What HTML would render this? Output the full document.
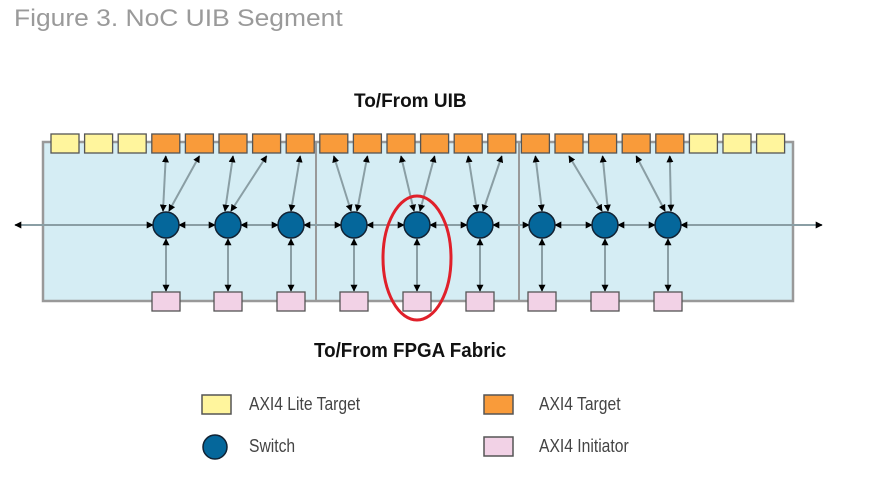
<!DOCTYPE html>
<html><head><meta charset="utf-8"><style>
html,body{margin:0;padding:0;background:#fff;}
body{width:888px;height:502px;overflow:hidden;position:relative;}
.t{position:absolute;white-space:nowrap;transform-origin:0 50%;}
.cond{font-family:"Liberation Sans Narrow","Liberation Sans",sans-serif;}
.lg{transform:scaleX(0.87);}
</style></head><body>
<div class="t" style="left:14px;top:5px;font-family:'Liberation Sans',sans-serif;font-size:24px;color:#9a9a9a;transform:scaleX(1.1);">Figure 3. NoC UIB Segment</div>
<div class="t cond" style="left:354px;top:91px;font-size:19px;font-weight:bold;color:#111;">To/From UIB</div>
<div class="t cond" style="left:314px;top:340px;font-size:20px;font-weight:bold;color:#111;transform:scaleX(0.94);">To/From FPGA Fabric</div>
<div class="t cond lg" style="left:249px;top:394px;font-size:18px;color:#444;">AXI4 Lite Target</div>
<div class="t cond lg" style="left:539px;top:394px;font-size:18px;color:#444;">AXI4 Target</div>
<div class="t cond lg" style="left:249px;top:436px;font-size:18px;color:#444;">Switch</div>
<div class="t cond lg" style="left:539px;top:436px;font-size:18px;color:#444;">AXI4 Initiator</div>
<svg id="s" width="888" height="502" style="position:absolute;left:0;top:0;" xmlns="http://www.w3.org/2000/svg">
<defs>
<marker id="a" viewBox="0 0 10 10" refX="9" refY="5" markerWidth="7" markerHeight="7" orient="auto-start-reverse" markerUnits="userSpaceOnUse"><path d="M0,0L10,5L0,10z" fill="#000"/></marker>
</defs>
<rect x="43" y="142" width="750" height="159" fill="#d5edf4" stroke="#999" stroke-width="2.5"/>
<line x1="316" y1="142" x2="316" y2="301" stroke="#999" stroke-width="2"/>
<line x1="519" y1="142" x2="519" y2="301" stroke="#999" stroke-width="2"/>
<g id="g"></g>
<rect x="202" y="395" width="29" height="19" fill="#fff59d" stroke="#555" stroke-width="1.5"/>
<rect x="484" y="395" width="29" height="19" fill="#f99b3a" stroke="#555" stroke-width="1.5"/>
<rect x="484" y="437" width="29" height="19" fill="#f2d2e6" stroke="#555" stroke-width="1.5"/>
<circle cx="215" cy="447" r="12" fill="#05679b" stroke="#123" stroke-width="1.5"/>
<ellipse cx="417" cy="258" rx="34" ry="62" fill="none" stroke="#e0202a" stroke-width="3"/>
</svg>
<script>
var g=document.getElementById('g'),h='';
function L(x1,y1,x2,y2,m1,m2){h+='<line x1="'+x1+'" y1="'+y1+'" x2="'+x2+'" y2="'+y2+'" stroke="#8a9ea4" stroke-width="2"'+(m1?' marker-start="url(#a)"':'')+(m2?' marker-end="url(#a)"':'')+'/>';}
var sw=[166,228,291,354,417,480,542,605,668],sy=225,r=13;
var conn=[[3,4],[5,6],[7],[8,9],[10,11],[12,13],[14],[15,16],[17,18]];
function bx(i){return 51+33.6*i;}
L(15,sy,sw[0]-r,sy,1,1);
for(var k=0;k<8;k++)L(sw[k]+r,sy,sw[k+1]-r,sy,1,1);
L(sw[8]+r,sy,822,sy,1,1);
for(var k=0;k<9;k++){
 var c=conn[k];
 for(var j=0;j<c.length;j++){var cx=bx(c[j])+14;var tx=sw[k]+(c.length==2?(j?3:-3):0);L(tx,sy-r-1,cx,156,1,1);}
 L(sw[k],sy+r+1,sw[k],291,1,1);
}
for(var i=0;i<22;i++){var col=(i<3||i>18)?'#fff59d':'#f99b3a';h+='<rect x="'+bx(i)+'" y="134" width="28" height="19" fill="'+col+'" stroke="#555" stroke-width="1.3"/>';}
for(var k=0;k<9;k++){h+='<circle cx="'+sw[k]+'" cy="'+sy+'" r="'+r+'" fill="#05679b" stroke="#123" stroke-width="1.5"/>';h+='<rect x="'+(sw[k]-14)+'" y="292" width="28" height="19" fill="#f2d2e6" stroke="#555" stroke-width="1.3"/>';}
g.innerHTML=h;
</script>
</body></html>
